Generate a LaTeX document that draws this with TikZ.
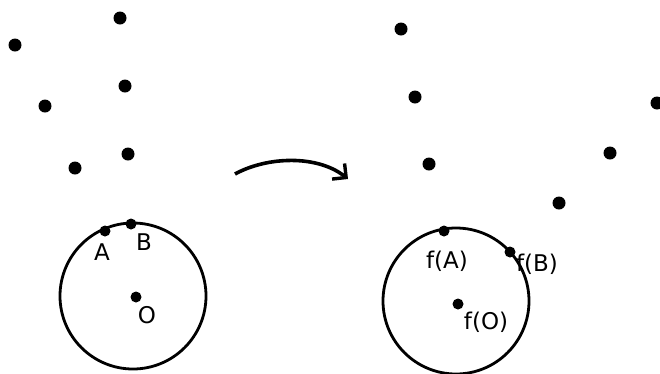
\documentclass[tikz,border=0pt]{standalone}
\usepackage{fontspec}
\setmainfont{DejaVu Sans}
\usetikzlibrary{arrows.meta}
\begin{document}
\begin{tikzpicture}[x=1pt,y=-1pt,
  bigdot/.style={circle,fill=black,inner sep=0pt,minimum size=13pt},
  smalldot/.style={circle,fill=black,inner sep=0pt,minimum size=11pt},
  disk/.style={draw=black,line width=2.8pt},
  lbl/.style={font=\fontsize{23}{23}\selectfont,inner sep=0pt}]
\useasboundingbox[fill=white] (0,0) rectangle (660,373);

% scattered points, left
\node[bigdot] (l1) at (120,18) {};
\node[bigdot] (l2) at (15,45) {};
\node[bigdot] (l3) at (125,86) {};
\node[bigdot] (l4) at (45,106) {};
\node[bigdot] (l5) at (128,154) {};
\node[bigdot] (l6) at (75,168) {};

% scattered points, right
\node[bigdot] (r1) at (401,29) {};
\node[bigdot] (r2) at (415,97) {};
\node[bigdot] (r3) at (429,164) {};
\node[bigdot] (r4) at (559,203) {};
\node[bigdot] (r5) at (610,153) {};
\node[bigdot] (r6) at (657,103) {};

% left disk
\draw[disk] (133,296) circle (73);
\node[smalldot] (A) at (105,231) {};
\node[smalldot] (B) at (131,224) {};
\node[smalldot] (O) at (136,297) {};
\node[lbl] (Alab) at (102,252) {A};
\node[lbl] (Blab) at (144,242) {B};
\node[lbl] (Olab) at (147,315) {O};

% right disk
\draw[disk] (456,301) circle (73);
\node[smalldot] (fA) at (444,231) {};
\node[smalldot] (fB) at (510,252) {};
\node[smalldot] (fO) at (458,304) {};
\node[lbl] (fAlab) at (447,261) {f(A)};
\node[lbl] (fBlab) at (537,264) {f(B)};
\node[lbl] (fOlab) at (486,322) {f(O)};

% the map
\coordinate (m1) at (235,174);
\coordinate (m2) at (348,179);
\draw[line width=3.6pt,-{Straight Barb[length=10pt,width=20pt,line width=3.4pt]}]
  (m1) .. controls (268,156) and (318,155) .. (m2);
\end{tikzpicture}
\end{document}
